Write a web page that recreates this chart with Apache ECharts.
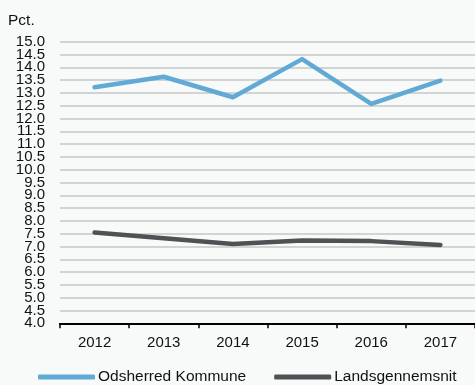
<!DOCTYPE html>
<html><head><meta charset="utf-8">
<script src="https://cdn.jsdelivr.net/npm/echarts@6/dist/echarts.min.js"></script>
<style>html,body{margin:0;padding:0;background:#f8f9f9}#c{width:475px;height:385px}</style>
</head><body><div id="c"></div>
<script>
var years = ['2012','2013','2014','2015','2016','2017'];
var odsherred = [13.22, 13.63, 12.83, 14.32, 12.57, 13.48];
var lands = [7.55, 7.32, 7.10, 7.23, 7.21, 7.06];
var seriesNames = ['Odsherred Kommune', 'Landsgennemsnit'];
var yUnit = 'Pct.';
var yMin = 4, yMax = 15;

var chart = echarts.init(document.getElementById('c'), null, {renderer:'canvas'});
var font = 'Liberation Sans, Arial, Helvetica, sans-serif';
var labelBase = {color: '#111', fontSize: 15, margin: 15, fontFamily: font};
chart.setOption({
  backgroundColor: '#f8f9f9',
  animation: false,
  textStyle: {fontFamily: font},
  graphic: [{type:'text', left: 8, top: 13, style:{text: yUnit, font: '15.5px ' + font, fill:'#111'}}],
  legend: {
    left: 38, top: 369, padding: 0, itemWidth: 57, itemHeight: 5, itemGap: 28,
    icon: 'roundRect',
    textStyle: {fontSize: 15.5, color: '#111', fontFamily: font, padding: [0,0,0,-2]},
    data: seriesNames
  },
  grid: {left: 60, right: -5, top: 41.7, bottom: 61.7, containLabel: false},
  xAxis: {
    type: 'category', data: years, boundaryGap: true,
    axisLine: {lineStyle: {color: '#000', width: 2}},
    axisTick: {show: true, length: 5, lineStyle: {color: '#000', width: 1.5}},
    axisLabel: {color: '#111', fontSize: 15, margin: 12, fontFamily: font}
  },
  yAxis: [{
    type: 'value', min: yMin, max: yMax, interval: 0.5, position: 'left',
    axisLine: {show: false}, axisTick: {show: false},
    axisLabel: Object.assign({}, labelBase, {showMinLabel: false, showMaxLabel: false,
      formatter: function(v){ return v.toFixed(1); }}),
    splitLine: {lineStyle: {color: '#c6c6c6', width: 1.5}}
  }, {
    type: 'value', min: yMin, max: yMax, interval: 1, position: 'left', offset: 0,
    axisLine: {show: false}, axisTick: {show: false}, splitLine: {show: false},
    axisLabel: Object.assign({}, labelBase, {showMinLabel: true, showMaxLabel: true,
      formatter: function(v){ return (v === yMin || v === yMax) ? v.toFixed(1) : ''; }})
  }],
  series: [
    {name: seriesNames[0], type: 'line', data: odsherred, symbol: 'none', yAxisIndex: 0,
     lineStyle: {color: '#62aad6', width: 4.5, cap: 'round', join: 'round'}, itemStyle: {color: '#62aad6'}},
    {name: seriesNames[1], type: 'line', data: lands, symbol: 'none', yAxisIndex: 0,
     lineStyle: {color: '#505055', width: 4.5, cap: 'round', join: 'round'}, itemStyle: {color: '#505055'}}
  ]
});
</script></body></html>
